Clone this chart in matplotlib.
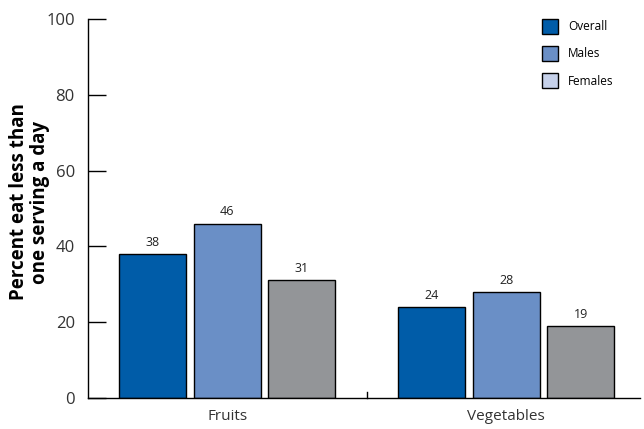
import matplotlib.pyplot as plt
from matplotlib.patches import Patch
import numpy as np

plt.rcParams['font.family'] = ['Open Sans', 'DejaVu Sans']

categories = ["Fruits", "Vegetables"]
groups = ["Overall", "Males", "Females"]
overall = [38, 24]
males = [46, 28]
females = [31, 19]

bar_colors = ["#005ca8", "#6a8fc6", "#939598"]
legend_colors = ["#005ca8", "#6a8fc6", "#c6d1ea"]

fig = plt.figure(figsize=(6.44, 4.29), dpi=100)
ax = fig.add_axes([0.1366, 0.0723, 0.8572, 0.8834])

x = np.arange(len(categories))
width = 0.24
step = 0.267
for i, (vals, col) in enumerate(zip([overall, males, females], bar_colors)):
    pos = x + (i - 1) * step
    bars = ax.bar(pos, vals, width, color=col, edgecolor="black", linewidth=1)
    for b, v in zip(bars, vals):
        ax.text(b.get_x() + b.get_width() / 2, v + 1.4, str(v),
                ha="center", va="bottom", fontsize=9, color="#222222")

ax.set_xlim(-0.5, 1.48)
ax.set_ylim(0, 100)
ax.set_yticks([0, 20, 40, 60, 80, 100])
ax.tick_params(axis="y", direction="in", length=13, width=1, labelsize=12,
               labelcolor="#333333", pad=9.5)
ax.set_xticks(x)
ax.set_xticklabels(categories)
ax.tick_params(axis="x", length=0, labelsize=11, labelcolor="#333333", pad=8)

# divider tick between the two groups
ax.plot([0.5, 0.5], [0, 1.7], color="black", linewidth=1, clip_on=False)

for side in ["top", "right"]:
    ax.spines[side].set_visible(False)
ax.spines["left"].set_linewidth(1)
ax.spines["bottom"].set_linewidth(1)

ax.set_ylabel("Percent eat less than\none serving a day", fontsize=13.5,
              fontweight="bold", linespacing=1.05)
ax.yaxis.set_label_coords(-0.0685, 0.517)

handles = [Patch(facecolor=c, edgecolor="black", linewidth=1) for c in legend_colors]
leg = ax.legend(handles, groups, loc="upper left", frameon=False, fontsize=8.5,
                handlelength=1.35, handleheight=1.55, handletextpad=0.85,
                labelspacing=1.05, borderpad=0, borderaxespad=0,
                bbox_to_anchor=(0.8225, 1.0))

fig.savefig("out.png", dpi=100)
